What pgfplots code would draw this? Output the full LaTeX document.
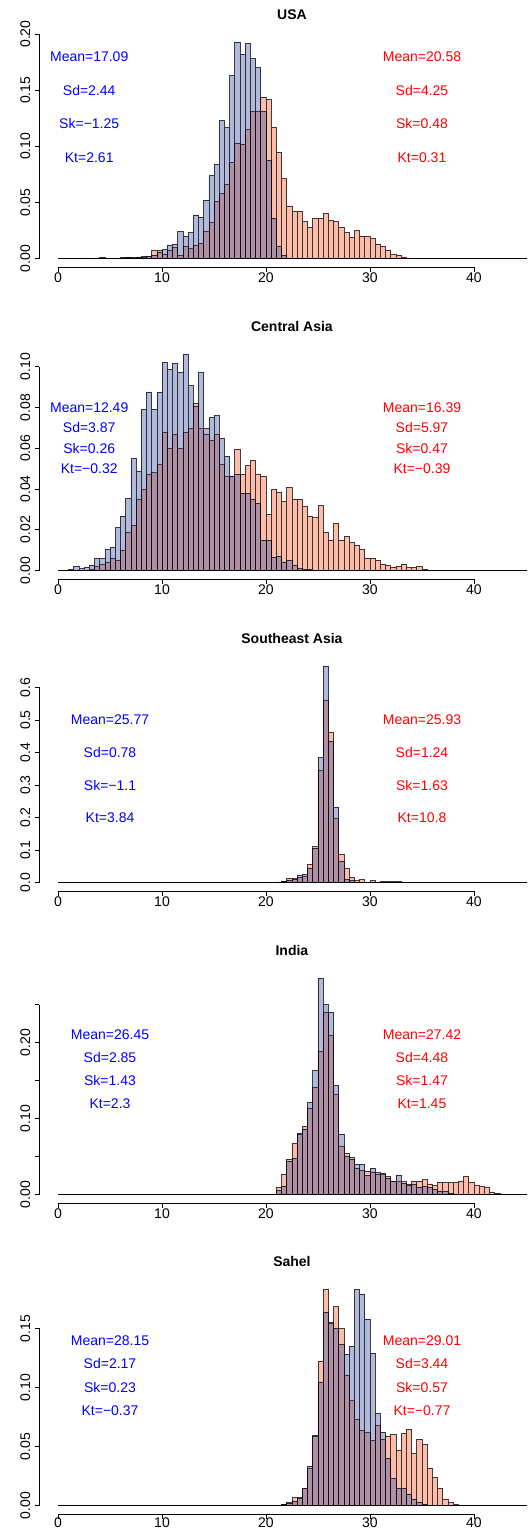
\documentclass[border=0pt]{standalone}
\usepackage{fontspec}
\setmainfont{Liberation Sans}
\usepackage{pgfplots}
\pgfplotsset{compat=1.18}
\definecolor{redbase}{RGB}{246,69,12}
\definecolor{bluebase}{RGB}{35,58,155}
\newcommand\fs{\fontsize{14}{16}\selectfont}
\newcommand\fsb{\fontsize{14}{16}\selectfont\bfseries}
\pgfplotsset{
  histax/.style={
    scale only axis, width=487.7pt, height=234pt, anchor=south west,
    xmin=-1.8, xmax=45.1,
    axis lines*=left, axis line style={draw=none},
    tick align=outside, major tick length=4.3pt,
    tick style={black, line width=0.7pt},
    xtick={0,10,20,30,40}, xticklabels={0,10,20,30,40},
    xticklabel style={inner sep=0.5pt, font=\fs},
    yticklabel style={rotate=90, anchor=south, inner sep=4.5pt, font=\fs},
    clip mode=individual, minor tick num=0,
  },
  redbar/.style={ybar interval, fill=redbase, fill opacity=0.35, draw=black, draw opacity=0.75, line width=0.6pt},
  bluebar/.style={ybar interval, fill=bluebase, fill opacity=0.35, draw=black, draw opacity=0.75, line width=0.6pt},
  baseln/.style={black, line width=0.8pt},
}
\begin{document}
\begin{tikzpicture}
\useasboundingbox (0,0) rectangle (527pt,1530pt);
% ---------------- USA
\begin{axis}[histax, at={(39.3pt,1262.7pt)}, ymin=-0.00772, ymax=0.20072,
  ytick={0,0.05,0.10,0.15,0.20}, yticklabels={0.00,0.05,0.10,0.15,0.20}]
\addplot[redbar] coordinates {(6,0.0006) (6.5,0.001) (7,0.0006) (7.5,0.001) (8,0.001) (8.5,0.002) (9,0.007) (9.5,0.007) (10,0.004) (10.5,0.007) (11,0.010) (11.5,0.003) (12,0.011) (12.5,0.009) (13,0.012) (13.5,0.014) (14,0.024) (14.5,0.032) (15,0.051) (15.5,0.058) (16,0.066) (16.5,0.086) (17,0.103) (17.5,0.102) (18,0.115) (18.5,0.131) (19,0.131) (19.5,0.144) (20,0.1415) (20.5,0.117) (21,0.095) (21.5,0.0715) (22,0.047) (22.5,0.042) (23,0.0425) (23.5,0.033) (24,0.028) (24.5,0.036) (25,0.036) (25.5,0.040) (26,0.034) (26.5,0.033) (27,0.028) (27.5,0.023) (28,0.019) (28.5,0.025) (29,0.020) (29.5,0.020) (30,0.018) (30.5,0.013) (31,0.011) (31.5,0.0077) (32,0.0035) (32.5,0.003) (33,0.0015) (33.5,0)};
\addplot[bluebar] coordinates {(2.5,0.0006) (3,0) (3.5,0.0006) (4,0.001) (4.5,0.0006) (5,0) (5.5,0.0006) (6,0.0008) (6.5,0.0012) (7,0.0008) (7.5,0.0015) (8,0.002) (8.5,0.002) (9,0.003) (9.5,0.006) (10,0.008) (10.5,0.012) (11,0.013) (11.5,0.024) (12,0.020) (12.5,0.023) (13,0.039) (13.5,0.037) (14,0.052) (14.5,0.074) (15,0.084) (15.5,0.123) (16,0.117) (16.5,0.163) (17,0.193) (17.5,0.182) (18,0.192) (18.5,0.178) (19,0.170) (19.5,0.131) (20,0.088) (20.5,0.036) (21,0.011) (21.5,0.003) (22,0)};
\addplot[baseln] coordinates {(0,0) (46,0)};
\draw[line width=0.8pt] (axis cs:0,-0.00772) -- (axis cs:40,-0.00772);
\draw[line width=0.8pt] (axis cs:-1.8,0) -- (axis cs:-1.8,0.20);
\node[font=\fsb, anchor=base] at (rel axis cs:0.518,1) [yshift=13.3pt] {USA};
\node[font=\fs, text=blue] at (axis cs:3,0.18) {Mean=17.09};
\node[font=\fs, text=blue] at (axis cs:3,0.15) {Sd=2.44};
\node[font=\fs, text=blue] at (axis cs:3,0.12) {Sk=−1.25};
\node[font=\fs, text=blue] at (axis cs:3,0.09) {Kt=2.61};
\node[font=\fs, text=red] at (axis cs:35,0.18) {Mean=20.58};
\node[font=\fs, text=red] at (axis cs:35,0.15) {Sd=4.25};
\node[font=\fs, text=red] at (axis cs:35,0.12) {Sk=0.48};
\node[font=\fs, text=red] at (axis cs:35,0.09) {Kt=0.31};
\end{axis}
% ---------------- Central Asia
\begin{axis}[histax, at={(39.3pt,950.7pt)}, ymin=-0.004248, ymax=0.110448,
  ytick={0,0.02,0.04,0.06,0.08,0.10}, yticklabels={0.00,0.02,0.04,0.06,0.08,0.10}]
\addplot[redbar] coordinates {(3,0.0005) (3.5,0.002) (4,0.003) (4.5,0.004) (5,0.006) (5.5,0.005) (6,0.010) (6.5,0.019) (7,0.022) (7.5,0.035) (8,0.040) (8.5,0.047) (9,0.048) (9.5,0.052) (10,0.068) (10.5,0.060) (11,0.067) (11.5,0.060) (12,0.068) (12.5,0.070) (13,0.082) (13.5,0.070) (14,0.067) (14.5,0.064) (15,0.067) (15.5,0.052) (16,0.046) (16.5,0.046) (17,0.0597) (17.5,0.047) (18,0.0515) (18.5,0.054) (19,0.047) (19.5,0.0463) (20,0.0276) (20.5,0.0397) (21,0.0385) (21.5,0.034) (22,0.0407) (22.5,0.035) (23,0.035) (23.5,0.0315) (24,0.0268) (24.5,0.026) (25,0.0319) (25.5,0.0189) (26,0.015) (26.5,0.0231) (27,0.015) (27.5,0.0169) (28,0.0137) (28.5,0.0125) (29,0.0104) (29.5,0.0062) (30,0.0062) (30.5,0.0052) (31,0.0033) (31.5,0.0028) (32,0.0016) (32.5,0.002) (33,0.0033) (33.5,0.0016) (34,0.0016) (34.5,0.002) (35,0.0007) (35.5,0)};
\addplot[bluebar] coordinates {(0.5,0.0003) (1,0.0007) (1.5,0.002) (2,0.001) (2.5,0.0016) (3,0.0028) (3.5,0.0059) (4,0.0059) (4.5,0.0104) (5,0.0114) (5.5,0.0211) (6,0.0268) (6.5,0.0353) (7,0.055) (7.5,0.0486) (8,0.079) (8.5,0.0876) (9,0.079) (9.5,0.0876) (10,0.102) (10.5,0.0987) (11,0.1016) (11.5,0.097) (12,0.1062) (12.5,0.0906) (13,0.0805) (13.5,0.097) (14,0.070) (14.5,0.075) (15,0.076) (15.5,0.065) (16,0.056) (16.5,0.046) (17,0.047) (17.5,0.038) (18,0.038) (18.5,0.035) (19,0.033) (19.5,0.015) (20,0.015) (20.5,0.0065) (21,0.007) (21.5,0.004) (22,0.005) (22.5,0.0028) (23,0.001) (23.5,0.0005) (24,0.0005) (24.5,0)};
\addplot[baseln] coordinates {(0,0) (46,0)};
\draw[line width=0.8pt] (axis cs:0,-0.004248) -- (axis cs:40,-0.004248);
\draw[line width=0.8pt] (axis cs:-1.8,0) -- (axis cs:-1.8,0.10);
\node[font=\fsb, anchor=base] at (rel axis cs:0.518,1) [yshift=13.3pt] {Central Asia};
\node[font=\fs, text=blue] at (axis cs:3,0.08) {Mean=12.49};
\node[font=\fs, text=blue] at (axis cs:3,0.07) {Sd=3.87};
\node[font=\fs, text=blue] at (axis cs:3,0.06) {Sk=0.26};
\node[font=\fs, text=blue] at (axis cs:3,0.05) {Kt=−0.32};
\node[font=\fs, text=red] at (axis cs:35,0.08) {Mean=16.39};
\node[font=\fs, text=red] at (axis cs:35,0.07) {Sd=5.97};
\node[font=\fs, text=red] at (axis cs:35,0.06) {Sk=0.47};
\node[font=\fs, text=red] at (axis cs:35,0.05) {Kt=−0.39};
\end{axis}
% ---------------- Southeast Asia
\begin{axis}[histax, at={(39.3pt,638.7pt)}, ymin=-0.02664, ymax=0.69264,
  ytick={0,0.1,0.2,0.3,0.4,0.5,0.6}, yticklabels={0.0,0.1,0.2,0.3,0.4,0.5,0.6}]
\addplot[redbar] coordinates {(21,0.002) (21.5,0.004) (22,0.014) (22.5,0.013) (23,0.017) (23.5,0.019) (24,0.055) (24.5,0.111) (25,0.345) (25.5,0.561) (26,0.461) (26.5,0.197) (27,0.086) (27.5,0.043) (28,0.015) (28.5,0.008) (29,0.009) (29.5,0.001) (30,0.006) (30.5,0.002) (31,0.003) (31.5,0.003) (32,0.003) (32.5,0.003) (33,0.001) (33.5,0.0005) (34,0.001) (34.5,0)};
\addplot[bluebar] coordinates {(21,0.002) (21.5,0.004) (22,0.008) (22.5,0.009) (23,0.021) (23.5,0.025) (24,0.043) (24.5,0.106) (25,0.384) (25.5,0.666) (26,0.434) (26.5,0.233) (27,0.065) (27.5,0.009) (28,0.006) (28.5,0.002) (29,0.001) (29.5,0)};
\addplot[baseln] coordinates {(0,0) (46,0)};
\draw[line width=0.8pt] (axis cs:0,-0.02664) -- (axis cs:40,-0.02664);
\draw[line width=0.8pt] (axis cs:-1.8,0) -- (axis cs:-1.8,0.6);
\node[font=\fsb, anchor=base] at (rel axis cs:0.518,1) [yshift=13.3pt] {Southeast Asia};
\node[font=\fs, text=blue] at (axis cs:5,0.5) {Mean=25.77};
\node[font=\fs, text=blue] at (axis cs:5,0.4) {Sd=0.78};
\node[font=\fs, text=blue] at (axis cs:5,0.3) {Sk=−1.1};
\node[font=\fs, text=blue] at (axis cs:5,0.2) {Kt=3.84};
\node[font=\fs, text=red] at (axis cs:35,0.5) {Mean=25.93};
\node[font=\fs, text=red] at (axis cs:35,0.4) {Sd=1.24};
\node[font=\fs, text=red] at (axis cs:35,0.3) {Sk=1.63};
\node[font=\fs, text=red] at (axis cs:35,0.2) {Kt=10.8};
\end{axis}
% ---------------- India
\begin{axis}[histax, at={(39.3pt,326.7pt)}, ymin=-0.0114, ymax=0.2964,
  ytick={0,0.05,0.10,0.15,0.20,0.25}, yticklabels={0.00,,0.10,,0.20,}]
\addplot[redbar] coordinates {(21,0.010) (21.5,0.027) (22,0.0465) (22.5,0.067) (23,0.080) (23.5,0.090) (24,0.114) (24.5,0.141) (25,0.189) (25.5,0.240) (26,0.2096) (26.5,0.132) (27,0.064) (27.5,0.055) (28,0.049) (28.5,0.035) (29,0.032) (29.5,0.031) (30,0.030) (30.5,0.027) (31,0.027) (31.5,0.024) (32,0.017) (32.5,0.018) (33,0.017) (33.5,0.014) (34,0.018) (34.5,0.018) (35,0.0196) (35.5,0.014) (36,0.012) (36.5,0.016) (37,0.016) (37.5,0.016) (38,0.016) (38.5,0.018) (39,0.024) (39.5,0.0157) (40,0.012) (40.5,0.011) (41,0.009) (41.5,0.003) (42,0.002) (42.5,0.001) (43,0.0007) (43.5,0)};
\addplot[bluebar] coordinates {(20.5,0.001) (21,0.0057) (21.5,0.011) (22,0.044) (22.5,0.048) (23,0.081) (23.5,0.086) (24,0.121) (24.5,0.163) (25,0.285) (25.5,0.250) (26,0.240) (26.5,0.144) (27,0.080) (27.5,0.050) (28,0.047) (28.5,0.040) (29,0.040) (29.5,0.025) (30,0.035) (30.5,0.029) (31,0.028) (31.5,0.022) (32,0.017) (32.5,0.026) (33,0.015) (33.5,0.012) (34,0.013) (34.5,0.010) (35,0.011) (35.5,0.009) (36,0.0065) (36.5,0.005) (37,0.0043) (37.5,0.002) (38,0.001) (38.5,0.0005) (39,0.0005) (39.5,0.0005) (40,0.0005) (40.5,0.0004) (41,0.0004) (41.5,0.0004) (42,0.0003) (42.5,0.0003) (43,0)};
\addplot[baseln] coordinates {(0,0) (46,0)};
\draw[line width=0.8pt] (axis cs:0,-0.0114) -- (axis cs:40,-0.0114);
\draw[line width=0.8pt] (axis cs:-1.8,0) -- (axis cs:-1.8,0.25);
\node[font=\fsb, anchor=base] at (rel axis cs:0.518,1) [yshift=13.3pt] {India};
\node[font=\fs, text=blue] at (axis cs:5,0.21) {Mean=26.45};
\node[font=\fs, text=blue] at (axis cs:5,0.18) {Sd=2.85};
\node[font=\fs, text=blue] at (axis cs:5,0.15) {Sk=1.43};
\node[font=\fs, text=blue] at (axis cs:5,0.12) {Kt=2.3};
\node[font=\fs, text=red] at (axis cs:35,0.21) {Mean=27.42};
\node[font=\fs, text=red] at (axis cs:35,0.18) {Sd=4.48};
\node[font=\fs, text=red] at (axis cs:35,0.15) {Sk=1.47};
\node[font=\fs, text=red] at (axis cs:35,0.12) {Kt=1.45};
\end{axis}
% ---------------- Sahel
\begin{axis}[histax, at={(39.3pt,15.7pt)}, ymin=-0.007336, ymax=0.190736,
  ytick={0,0.05,0.10,0.15}, yticklabels={0.00,0.05,0.10,0.15},
  xticklabel style={yshift=1.5pt}]
\addplot[redbar] coordinates {(21.5,0.001) (22,0.003) (22.5,0.0067) (23,0.0067) (23.5,0.0146) (24,0.0314) (24.5,0.059) (25,0.1225) (25.5,0.1834) (26,0.1546) (26.5,0.1685) (27,0.1497) (27.5,0.110) (28,0.089) (28.5,0.073) (29,0.064) (29.5,0.062) (30,0.055) (30.5,0.068) (31,0.056) (31.5,0.059) (32,0.060) (32.5,0.047) (33,0.061) (33.5,0.065) (34,0.044) (34.5,0.056) (35,0.052) (35.5,0.032) (36,0.024) (36.5,0.015) (37,0.0053) (37.5,0.0025) (38,0.001) (38.5,0)};
\addplot[bluebar] coordinates {(21.5,0.001) (22,0.002) (22.5,0.0034) (23,0.006) (23.5,0.0146) (24,0.0334) (24.5,0.0594) (25,0.104) (25.5,0.164) (26,0.1548) (26.5,0.150) (27,0.1365) (27.5,0.128) (28,0.135) (28.5,0.183) (29,0.179) (29.5,0.158) (30,0.129) (30.5,0.078) (31,0.062) (31.5,0.040) (32,0.023) (32.5,0.0146) (33,0.0146) (33.5,0.010) (34,0.0056) (34.5,0.003) (35,0.001) (35.5,0)};
\addplot[baseln] coordinates {(0,0) (46,0)};
\draw[line width=0.8pt] (axis cs:0,-0.007336) -- (axis cs:40,-0.007336);
\draw[line width=0.8pt] (axis cs:-1.8,0) -- (axis cs:-1.8,0.15);
\node[font=\fsb, anchor=base] at (rel axis cs:0.518,1) [yshift=13.3pt] {Sahel};
\node[font=\fs, text=blue] at (axis cs:5,0.14) {Mean=28.15};
\node[font=\fs, text=blue] at (axis cs:5,0.12) {Sd=2.17};
\node[font=\fs, text=blue] at (axis cs:5,0.10) {Sk=0.23};
\node[font=\fs, text=blue] at (axis cs:5,0.08) {Kt=−0.37};
\node[font=\fs, text=red] at (axis cs:35,0.14) {Mean=29.01};
\node[font=\fs, text=red] at (axis cs:35,0.12) {Sd=3.44};
\node[font=\fs, text=red] at (axis cs:35,0.10) {Sk=0.57};
\node[font=\fs, text=red] at (axis cs:35,0.08) {Kt=−0.77};
\end{axis}
\end{tikzpicture}
\end{document}
